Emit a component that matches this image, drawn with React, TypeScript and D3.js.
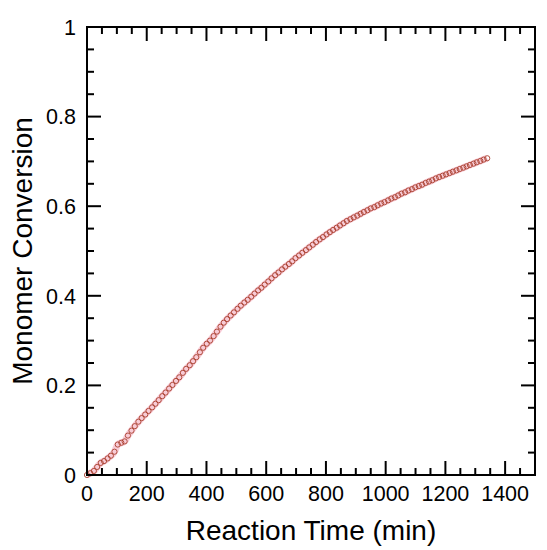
import * as d3 from "d3";
import React from "react";

// reaction time (min) and monomer conversion
const times = [
  0, 11, 23, 34, 46, 57, 69, 80, 92, 103, 115, 126, 137, 149, 160, 172, 183, 195,
  206, 218, 229, 240, 252, 263, 275, 286, 298, 309, 321, 332, 344, 355, 366, 378,
  389, 401, 412, 424, 435, 447, 458, 469, 481, 492, 504, 515, 527, 538, 550, 561,
  573, 584, 595, 607, 618, 630, 641, 653, 664, 676, 687, 698, 710, 721, 733, 744,
  756, 767, 779, 790, 802, 813, 824, 836, 847, 859, 870, 882, 893, 905, 916, 927,
  939, 950, 962, 973, 985, 996, 1008, 1019, 1031, 1042, 1053, 1065, 1076, 1088,
  1099, 1111, 1122, 1134, 1145, 1156, 1168, 1179, 1191, 1202, 1214, 1225, 1237,
  1248, 1260, 1271, 1282, 1294, 1305, 1317, 1328, 1340,
];
const conversion = [
  0.0, 0.004, 0.009, 0.018, 0.027, 0.031, 0.037, 0.043, 0.052, 0.068, 0.072, 0.075,
  0.088, 0.099, 0.109, 0.119, 0.127, 0.135, 0.143, 0.151, 0.159, 0.167, 0.176, 0.184,
  0.193, 0.201, 0.21, 0.218, 0.228, 0.237, 0.245, 0.254, 0.263, 0.274, 0.284, 0.293,
  0.3, 0.31, 0.32, 0.331, 0.34, 0.348, 0.356, 0.363, 0.371, 0.378, 0.385, 0.391,
  0.398, 0.405, 0.412, 0.418, 0.425, 0.432, 0.439, 0.446, 0.452, 0.459, 0.465, 0.471,
  0.477, 0.484, 0.49, 0.496, 0.502, 0.508, 0.514, 0.52, 0.526, 0.531, 0.537, 0.542,
  0.547, 0.552, 0.557, 0.562, 0.567, 0.571, 0.575, 0.579, 0.583, 0.587, 0.591, 0.595,
  0.598, 0.602, 0.606, 0.609, 0.613, 0.617, 0.62, 0.624, 0.628, 0.631, 0.635, 0.638,
  0.642, 0.645, 0.648, 0.652, 0.655, 0.658, 0.662, 0.665, 0.668, 0.671, 0.674, 0.677,
  0.68, 0.683, 0.686, 0.689, 0.692, 0.695, 0.698, 0.701, 0.704, 0.707,
];

const xMajor = [0, 200, 400, 600, 800, 1000, 1200, 1400];
const yMajor = [0, 0.2, 0.4, 0.6, 0.8, 1];

const width = 547;
const height = 550;
const marginLeft = 87;
const marginRight = 12;
const marginTop = 27;
const marginBottom = 75;
const font = "'Liberation Sans', Arial, sans-serif";

export default function App() {
  const x = d3.scaleLinear([0, 1500], [marginLeft, width - marginRight]);
  const y = d3.scaleLinear([0, 1], [height - marginBottom, marginTop]);

  const xMinor = d3.range(0, 1501, 50).filter((d) => d % 200 !== 0 && d < 1500);
  const yMinor = d3.range(0, 21).map((i) => i / 20).filter((d) => Math.round(d * 20) % 4 !== 0);

  const [x0, x1] = x.range();
  const [y0, y1] = y.range();
  const major = 14;
  const minor = 7;

  const pts = times.map((t, i) => [t, conversion[i]] as [number, number]);
  const line = d3
    .line<[number, number]>()
    .x((d) => x(d[0]))
    .y((d) => y(d[1]))
    .curve(d3.curveMonotoneX);

  return (
    <svg
      width={width}
      height={height}
      style={{ position: "absolute", left: 0, top: 0, background: "#fff" }}
      fontFamily={font}
    >
      {/* faint fitted trace behind the markers */}
      <path d={line(pts) ?? ""} fill="none" stroke="#f5b9c8" strokeWidth={7} strokeOpacity={0.75} />
      <g fill="none" stroke="#a8402e" strokeWidth={0.9}>
        {pts.map((d, i) => (
          <circle key={i} cx={x(d[0])} cy={y(d[1])} r={2.6} />
        ))}
      </g>

      {/* ticks, pointing inward on all sides */}
      <g stroke="#000" strokeWidth={2}>
        {xMajor.map((d) => (
          <g key={"xM" + d}>
            <line x1={x(d)} x2={x(d)} y1={y0} y2={y0 - major} />
            <line x1={x(d)} x2={x(d)} y1={y1} y2={y1 + major} />
          </g>
        ))}
        {xMinor.map((d) => (
          <g key={"xm" + d}>
            <line x1={x(d)} x2={x(d)} y1={y0} y2={y0 - minor} />
            <line x1={x(d)} x2={x(d)} y1={y1} y2={y1 + minor} />
          </g>
        ))}
        {yMajor.map((d) => (
          <g key={"yM" + d}>
            <line x1={x0} x2={x0 + major} y1={y(d)} y2={y(d)} />
            <line x1={x1} x2={x1 - major} y1={y(d)} y2={y(d)} />
          </g>
        ))}
        {yMinor.map((d) => (
          <g key={"ym" + d}>
            <line x1={x0} x2={x0 + minor} y1={y(d)} y2={y(d)} />
            <line x1={x1} x2={x1 - minor} y1={y(d)} y2={y(d)} />
          </g>
        ))}
      </g>
      <rect x={x0} y={y1} width={x1 - x0} height={y0 - y1} fill="none" stroke="#000" strokeWidth={2} />

      <g fontSize={21.5} fill="#000">
        {xMajor.map((d) => (
          <text key={"xl" + d} x={x(d)} y={y0 + 26} textAnchor="middle">
            {d}
          </text>
        ))}
        {yMajor.map((d) => (
          <text key={"yl" + d} x={x0 - 11} y={y(d)} dy="0.36em" textAnchor="end">
            {d === 0 || d === 1 ? d : d.toFixed(1)}
          </text>
        ))}
      </g>

      <text x={(x0 + x1) / 2} y={540} fontSize={28} textAnchor="middle">
        Reaction Time (min)
      </text>
      <text
        transform={`translate(32,${(y0 + y1) / 2}) rotate(-90)`}
        fontSize={28}
        textAnchor="middle"
      >
        Monomer Conversion
      </text>
    </svg>
  );
}
